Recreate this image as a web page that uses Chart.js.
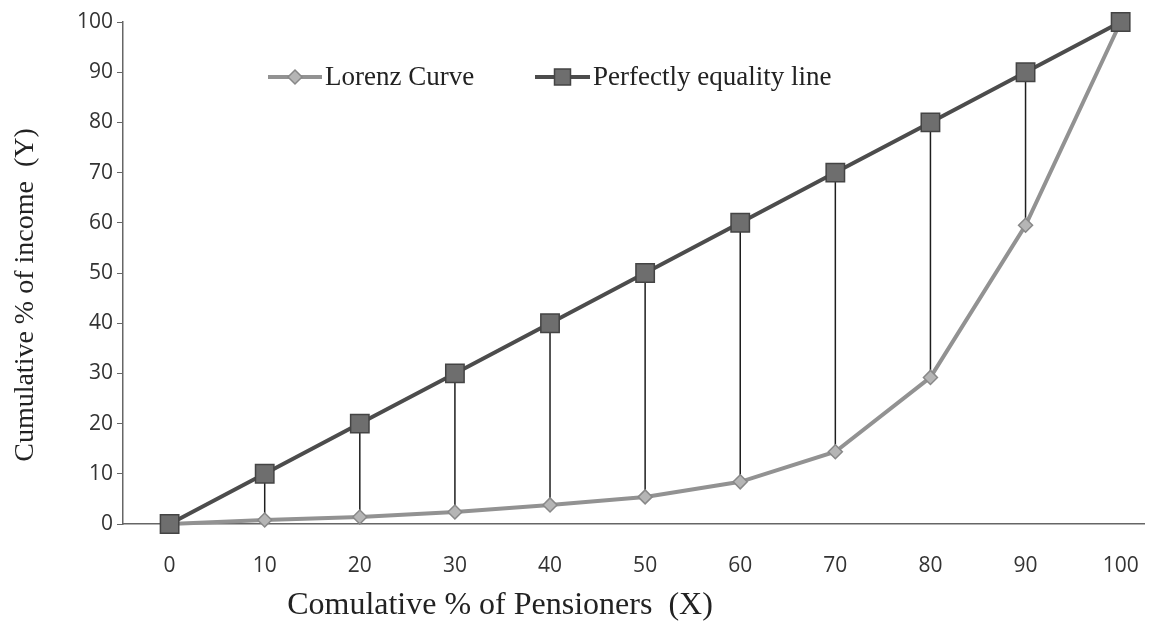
<!DOCTYPE html>
<html>
<head>
<meta charset="utf-8">
<script src="https://cdn.jsdelivr.net/npm/chart.js@4.4.1/dist/chart.umd.min.js"></script>
<style>
  html, body { margin: 0; padding: 0; background: #fff; overflow: hidden; }
  /* a little wider than the window so the x axis runs to the right edge */
  #wrap { width: 1168px; height: 630px; position: relative; }
</style>
</head>
<body>
<div id="wrap"><canvas id="lorenz"></canvas></div>
<script>
// data
const xTicks = [0, 10, 20, 30, 40, 50, 60, 70, 80, 90, 100];
const yTicks = [0, 10, 20, 30, 40, 50, 60, 70, 80, 90, 100];
const lorenz = [0, 0.8, 1.4, 2.4, 3.8, 5.4, 8.4, 14.4, 29.2, 59.5, 100];
const equality = [0, 10, 20, 30, 40, 50, 60, 70, 80, 90, 100];
const seriesNames = ["Lorenz Curve", "Perfectly equality line"];
const xTitle = "Comulative % of Pensioners  (X)";
const yTitle = "Cumulative % of income  (Y)";

// vertical gaps between the two lines (x = 10..90), broken by nulls
let gaps = [];
for (let i = 1; i < xTicks.length - 1; i++) {
  gaps.push({x: xTicks[i], y: equality[i]});
  gaps.push({x: xTicks[i], y: lorenz[i]});
  gaps.push({x: xTicks[i], y: null});
}

const lorenzColor = "#929292";
const eqColor = "#4c4c4c";

// legend + axis titles placed where the original has them
const extras = {
  id: "extras",
  afterDraw(chart) {
    const c = chart.ctx;
    const y = 77;
    const items = [
      {x: 268, w: 54, name: seriesNames[0], color: lorenzColor, style: "diamond"},
      {x: 535, w: 55, name: seriesNames[1], color: eqColor, style: "square"}
    ];
    c.save();
    items.forEach(it => {
      c.strokeStyle = it.color;
      c.lineWidth = 4;
      c.beginPath();
      c.moveTo(it.x, y);
      c.lineTo(it.x + it.w, y);
      c.stroke();
      const mx = it.x + it.w / 2;
      c.beginPath();
      if (it.style === "diamond") {
        c.moveTo(mx, y - 7); c.lineTo(mx + 7, y); c.lineTo(mx, y + 7); c.lineTo(mx - 7, y);
        c.closePath();
        c.fillStyle = "#b5b5b5";
        c.fill();
        c.lineWidth = 1.5;
        c.strokeStyle = "#888";
        c.stroke();
      } else {
        c.rect(mx - 8, y - 8, 16, 16);
        c.fillStyle = "#6e6e6e";
        c.fill();
        c.lineWidth = 1.5;
        c.strokeStyle = "#444";
        c.stroke();
      }
      c.fillStyle = "#222";
      c.font = "27px 'Liberation Serif'";
      c.textBaseline = "middle";
      c.textAlign = "left";
      c.fillText(it.name, it.x + it.w + 3, y + 1);
    });

    // axis titles
    c.fillStyle = "#222";
    c.textAlign = "center";
    c.textBaseline = "middle";
    c.font = "32px 'Liberation Serif'";
    c.fillText(xTitle, 500, 606);
    c.translate(26, 295);
    c.rotate(-Math.PI / 2);
    c.font = "28px 'Liberation Serif'";
    c.fillText(yTitle, 0, 0);
    c.restore();
  }
};

const ctx = document.getElementById("lorenz").getContext("2d");
const chart = new Chart(ctx, {
  type: "line",
  data: {
    datasets: [
      {
        label: "gaps",
        data: gaps,
        borderColor: "#1e1e1e",
        borderWidth: 1.5,
        pointRadius: 0,
        spanGaps: false,
        order: 3
      },
      {
        label: seriesNames[0],
        data: xTicks.map((x, i) => ({x: x, y: lorenz[i]})),
        borderColor: lorenzColor,
        borderWidth: 4,
        pointStyle: "rectRot",
        pointRadius: 7,
        pointBackgroundColor: "#b5b5b5",
        pointBorderColor: "#888",
        pointBorderWidth: 1.5,
        clip: false,
        order: 2
      },
      {
        label: seriesNames[1],
        data: xTicks.map((x, i) => ({x: x, y: equality[i]})),
        borderColor: eqColor,
        borderWidth: 4,
        pointStyle: "rect",
        pointRadius: 13,
        pointBackgroundColor: "#6e6e6e",
        pointBorderColor: "#444",
        pointBorderWidth: 1.5,
        clip: false,
        order: 1
      }
    ]
  },
  options: {
    responsive: true,
    maintainAspectRatio: false,
    animation: false,
    layout: { padding: { top: 22, right: 0, left: 0, bottom: 0 } },
    plugins: {
      legend: { display: false },
      tooltip: { enabled: false }
    },
    scales: {
      x: {
        type: "linear",
        min: -4.9,
        max: 102.5,
        afterBuildTicks: axis => { axis.ticks = xTicks.map(v => ({value: v})); },
        afterFit: scale => { scale.height = 106; },
        grid: { drawOnChartArea: false, drawTicks: false, color: "#666" },
        border: { color: "#666", width: 1.5 },
        ticks: {
          color: "#333",
          font: { family: "'Open Sans'", size: 21 },
          padding: 29,
          maxRotation: 0
        }
      },
      y: {
        min: 0,
        max: 100,
        afterBuildTicks: axis => { axis.ticks = yTicks.map(v => ({value: v})); },
        afterFit: scale => { scale.width = 123; },
        grid: { drawOnChartArea: false, drawTicks: true, tickLength: 6, color: "#666" },
        border: { color: "#666", width: 1.5 },
        ticks: {
          color: "#333",
          font: { family: "'Open Sans'", size: 21 },
          padding: 4
        }
      }
    }
  },
  plugins: [extras]
});
</script>
</body>
</html>
